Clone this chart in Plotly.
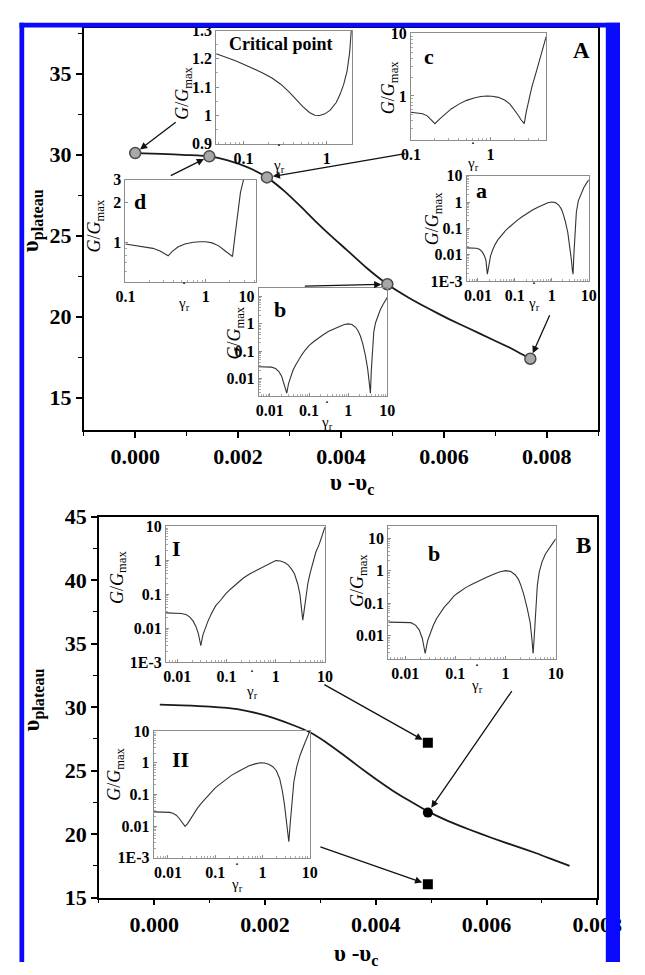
import math
import plotly.graph_objects as go

W, H = 645, 975
SERIF = "Liberation Serif"

# ---------------- data ----------------
# Panel A main curve and marked points
curveA_x = [0.0, 0.0005, 0.001, 0.00144, 0.0018, 0.0022, 0.00256, 0.0029, 0.0032, 0.0035, 0.0038, 0.0041, 0.0045, 0.0049, 0.0053, 0.0057, 0.0061, 0.0065, 0.0069, 0.0073, 0.00768]
curveA_y = [30.1, 30.05, 29.98, 29.9, 29.65, 29.2, 28.6, 27.75, 26.85, 25.9, 25.0, 24.15, 23.0, 22.0, 21.2, 20.5, 19.85, 19.25, 18.65, 18.05, 17.4]
pointsA_x = [0.0, 0.00144, 0.00256, 0.0049, 0.00768]
pointsA_y = [30.1, 29.9, 28.6, 22.0, 17.4]

# Panel B main curve and marked points
curveB_x = [0.0001, 0.0005, 0.001, 0.0015, 0.002, 0.0025, 0.0028, 0.0031, 0.0034, 0.0037, 0.004, 0.0043, 0.0046, 0.00494, 0.0053, 0.0057, 0.0061, 0.0065, 0.0069, 0.0072, 0.0075]
curveB_y = [30.2, 30.15, 30.05, 29.85, 29.35, 28.6, 28.05, 27.25, 26.3, 25.3, 24.35, 23.45, 22.65, 21.8, 21.05, 20.35, 19.7, 19.1, 18.5, 18.0, 17.5]
squaresB_x = [0.00494, 0.00494]
squaresB_y = [27.2, 16.05]
circleB_x = [0.00494]
circleB_y = [21.7]

# Inset: critical point
crit_x = [0.047, 0.06, 0.08, 0.1, 0.13, 0.17, 0.22, 0.28, 0.35, 0.43, 0.52, 0.62, 0.72, 0.82, 0.95, 1.1, 1.3, 1.45, 1.6, 1.75, 1.88, 1.97]
crit_y = [1.218, 1.207, 1.193, 1.181, 1.166, 1.150, 1.132, 1.110, 1.084, 1.055, 1.030, 1.010, 1.000, 0.999, 1.005, 1.018, 1.045, 1.075, 1.11, 1.155, 1.22, 1.30]

# Inset c
c_x = [0.1, 0.12, 0.14, 0.16, 0.18, 0.2, 0.23, 0.27, 0.32, 0.4, 0.5, 0.62, 0.75, 0.9, 1.05, 1.25, 1.5, 1.75, 2.0, 2.2, 2.4, 2.55, 2.65, 2.8, 3.0, 3.3, 3.7, 4.2, 4.7, 5.0]
c_y = [0.55, 0.54, 0.52, 0.48, 0.42, 0.36, 0.43, 0.52, 0.62, 0.74, 0.85, 0.93, 0.98, 1.0, 0.99, 0.95, 0.86, 0.74, 0.6, 0.5, 0.42, 0.37, 0.36, 0.55, 0.85, 1.4, 2.3, 4.0, 6.5, 9.0]

# Inset d
d_x = [0.1, 0.13, 0.17, 0.22, 0.27, 0.31, 0.34, 0.38, 0.45, 0.55, 0.7, 0.85, 1.0, 1.2, 1.45, 1.7, 1.95, 2.15, 2.3, 2.5, 2.7, 2.95]
d_y = [0.97, 0.95, 0.93, 0.9, 0.86, 0.82, 0.79, 0.85, 0.92, 0.97, 1.0, 1.01, 1.01, 0.99, 0.94, 0.87, 0.81, 0.78, 1.1, 1.7, 2.4, 3.0]

# Inset a
a_x = [0.005, 0.007, 0.009, 0.011, 0.013, 0.015, 0.0165, 0.018, 0.02, 0.022, 0.025, 0.029, 0.035, 0.043, 0.055, 0.07, 0.09, 0.12, 0.16, 0.22, 0.3, 0.42, 0.58, 0.78, 1.0, 1.25, 1.55, 1.8, 2.0, 2.3, 2.7, 3.1, 3.4, 3.6, 3.75, 3.95, 4.2, 4.6, 5.2, 6.2, 7.3, 8.5, 10]
a_y = [0.018, 0.018, 0.0175, 0.016, 0.013, 0.009, 0.006, 0.0018, 0.005, 0.009, 0.015, 0.024, 0.037, 0.055, 0.08, 0.11, 0.15, 0.21, 0.28, 0.38, 0.5, 0.63, 0.78, 0.93, 1.0, 0.95, 0.75, 0.55, 0.37, 0.19, 0.07, 0.02, 0.006, 0.0025, 0.0018, 0.01, 0.08, 0.4, 1.1, 2.2, 3.5, 5.0, 7.0]

# Inset b (panel A)
bA_x = [0.0052, 0.008, 0.011, 0.014, 0.017, 0.02, 0.023, 0.027, 0.03, 0.034, 0.039, 0.046, 0.055, 0.066, 0.08, 0.1, 0.13, 0.17, 0.23, 0.31, 0.43, 0.6, 0.8, 1.0, 1.25, 1.55, 1.8, 2.05, 2.35, 2.75, 3.15, 3.45, 3.7, 3.9, 4.15, 4.5, 5.0, 5.7, 6.6, 7.7, 8.8, 10]
bA_y = [0.027, 0.027, 0.026, 0.023, 0.018, 0.012, 0.0065, 0.0029, 0.0065, 0.012, 0.02, 0.032, 0.05, 0.075, 0.11, 0.16, 0.22, 0.3, 0.4, 0.52, 0.66, 0.8, 0.94, 1.0, 0.95, 0.75, 0.55, 0.36, 0.19, 0.07, 0.022, 0.007, 0.0029, 0.02, 0.15, 0.5, 1.1, 2.0, 3.3, 5.0, 7.0, 9.5]

# Inset I (panel B)
I_x = [0.0059, 0.009, 0.012, 0.015, 0.018, 0.021, 0.024, 0.027, 0.03, 0.033, 0.037, 0.042, 0.05, 0.06, 0.075, 0.095, 0.12, 0.16, 0.22, 0.3, 0.42, 0.58, 0.78, 1.0, 1.25, 1.55, 1.8, 2.1, 2.4, 2.8, 3.1, 3.35, 3.55, 3.8, 4.1, 4.5, 5.0, 5.6, 6.5, 7.6, 8.8, 10]
I_y = [0.028, 0.028, 0.027, 0.025, 0.021, 0.016, 0.011, 0.0065, 0.003, 0.0062, 0.01, 0.016, 0.028, 0.045, 0.065, 0.1, 0.14, 0.2, 0.3, 0.4, 0.52, 0.66, 0.85, 0.98, 0.95, 0.85, 0.72, 0.55, 0.4, 0.2, 0.1, 0.04, 0.017, 0.035, 0.09, 0.21, 0.42, 0.78, 1.7, 2.9, 5.5, 9.5]

# Inset b (panel B)
bB_x = [0.0046, 0.007, 0.01, 0.013, 0.016, 0.019, 0.022, 0.025, 0.028, 0.032, 0.036, 0.042, 0.05, 0.06, 0.075, 0.095, 0.12, 0.16, 0.22, 0.3, 0.42, 0.58, 0.78, 1.0, 1.25, 1.55, 1.8, 2.0, 2.3, 2.7, 3.1, 3.35, 3.55, 3.75, 4.0, 4.3, 4.7, 5.3, 6.2, 7.3, 8.5, 10]
bB_y = [0.026, 0.026, 0.026, 0.025, 0.021, 0.015, 0.008, 0.0028, 0.007, 0.013, 0.02, 0.033, 0.05, 0.075, 0.11, 0.17, 0.22, 0.3, 0.39, 0.5, 0.63, 0.78, 0.93, 1.0, 0.95, 0.75, 0.55, 0.37, 0.19, 0.07, 0.025, 0.008, 0.0028, 0.01, 0.08, 0.35, 0.9, 1.8, 3.2, 4.8, 6.8, 9.5]

# Inset II (panel B)
II_x = [0.005, 0.007, 0.009, 0.011, 0.013, 0.015, 0.017, 0.019, 0.021, 0.023, 0.026, 0.03, 0.035, 0.042, 0.052, 0.065, 0.08, 0.1, 0.13, 0.17, 0.22, 0.3, 0.4, 0.52, 0.7, 0.9, 1.1, 1.35, 1.65, 1.95, 2.3, 2.6, 2.9, 3.2, 3.4, 3.6, 3.85, 4.2, 4.6, 5.3, 6.2, 7.3, 8.6, 10]
II_y = [0.028, 0.028, 0.028, 0.027, 0.025, 0.022, 0.018, 0.014, 0.012, 0.0098, 0.012, 0.017, 0.025, 0.037, 0.055, 0.08, 0.11, 0.16, 0.22, 0.3, 0.4, 0.52, 0.65, 0.8, 0.92, 1.0, 0.98, 0.9, 0.75, 0.57, 0.32, 0.14, 0.05, 0.013, 0.006, 0.0032, 0.012, 0.06, 0.25, 0.75, 1.7, 3.2, 5.8, 10]

# tick labels
log4_vals = [0.01, 0.1, 1, 10]
log4_text = ["0.01", "0.1", "1", "10"]
log5_vals = [0.001, 0.01, 0.1, 1, 10]
log5_text = ["1E-3", "0.01", "0.1", "1", "10"]

# ---------------- helpers ----------------
def xd(l, r):
    return [l / W, r / W]

def yd(t, b):
    return [1 - b / H, 1 - t / H]

def px(x):
    return x / W

def py(y):
    return 1 - y / H

minor_log = [m * 10 ** k for k in range(-3, 2) for m in range(2, 10)]

fig = go.Figure()
layout = dict(width=W, height=H, autosize=False, margin=dict(l=0, r=0, t=0, b=0, pad=0),
              paper_bgcolor="white", plot_bgcolor="rgba(0,0,0,0)",
              showlegend=False)

main_font = dict(family=SERIF, size=22, color="black", weight="bold")
ins_font = dict(family=SERIF, size=16, color="black", weight="bold")

def main_axes(n, xbox, ybox, xr, yr):
    sx = "" if n == 1 else str(n)
    layout["xaxis" + sx] = dict(domain=xd(*xbox), anchor="y" + sx, range=xr, tick0=0, dtick=0.002,
                                tickformat=".3f", ticks="outside", ticklen=6, tickwidth=1.5, tickcolor="black",
                                minor=dict(dtick=0.001, ticks="outside", ticklen=4, tickwidth=1.2, tickcolor="black"),
                                showline=True, linewidth=1.5, linecolor="black", mirror=True,
                                showgrid=False, zeroline=False, tickfont=main_font)
    layout["yaxis" + sx] = dict(domain=yd(*ybox), anchor="x" + sx, range=yr, tick0=0, dtick=5,
                                ticks="outside", ticklen=6, tickwidth=1.5, tickcolor="black",
                                minor=dict(dtick=2.5, ticks="outside", ticklen=4, tickwidth=1.2, tickcolor="black"),
                                showline=True, linewidth=1.5, linecolor="black", mirror=True,
                                showgrid=False, zeroline=False, tickfont=main_font)

def inset(n, xs, ys, box, xr, yr, ylog, xv, xt, yv, yt):
    l, r, t, b = box
    sx = str(n)
    fig.add_trace(go.Scatter(x=xs, y=ys, mode="lines", line=dict(color="#333333", width=1.1),
                             xaxis="x" + sx, yaxis="y" + sx, hoverinfo="skip"))
    frame = dict(showline=True, linewidth=1, linecolor="#8c8c8c", mirror=True, showgrid=False,
                 zeroline=False, ticks="inside", ticklen=3, tickcolor="#8c8c8c", tickfont=ins_font)
    layout["xaxis" + sx] = dict(domain=xd(l, r), anchor="y" + sx, type="log", range=xr,
                                tickmode="array", tickvals=xv, ticktext=xt,
                                minor=dict(tickmode="array", tickvals=minor_log, ticks="inside", ticklen=2,
                                           tickcolor="#aaaaaa"), **frame)
    ya = dict(domain=yd(t, b), anchor="x" + sx, range=yr, tickmode="array", tickvals=yv, ticktext=yt, **frame)
    if ylog:
        ya["type"] = "log"
        ya["minor"] = dict(tickmode="array", tickvals=minor_log, ticks="inside", ticklen=2, tickcolor="#aaaaaa")
    else:
        ya["minor"] = dict(dtick=0.05, ticks="inside", ticklen=2, tickcolor="#aaaaaa")
    layout["yaxis" + sx] = ya

L = math.log10

# ---- panel A ----
fig.add_trace(go.Scatter(x=curveA_x, y=curveA_y, mode="lines",
                         line=dict(color="#1a1a1a", width=1.8, shape="spline", smoothing=0.5),
                         xaxis="x", yaxis="y", hoverinfo="skip"))
fig.add_trace(go.Scatter(x=pointsA_x, y=pointsA_y, mode="markers",
                         marker=dict(symbol="circle", size=11, color="#a8a8a8", line=dict(color="#4a4a4a", width=1.5)),
                         xaxis="x", yaxis="y", hoverinfo="skip"))
main_axes(1, (78, 622), (16, 429), [-0.001, 0.009], [13, 37.85])

inset(2, crit_x, crit_y, (218, 362, 19, 135), [L(0.047), L(2.03)], [0.9, 1.3], False,
      [0.1, 1], ["0.1", "1"], [0.9, 1.0, 1.1, 1.2, 1.3], ["0.9", "1", "1.1", "1.2", "1.3"])
inset(3, c_x, c_y, (424, 567, 22, 131), [-1, L(5.0)], [L(0.2), 1], True,
      [0.1, 1], ["0.1", "1"], [1, 10], ["1", "10"])
inset(4, d_x, d_y, (122, 260, 172, 277), [-1, L(4.2)], [L(0.5), L(3)], True,
      [0.1, 1], ["0.1", "1"], [1, 2, 3], ["1", "2", "3"])
inset(5, a_x, a_y, (483, 612, 168, 276), [L(0.005), 1], [-3, 1], True,
      log4_vals, log4_text, log5_vals, log5_text)
inset(6, bA_x, bA_y, (263, 399, 283, 394), [L(0.0052), 1], [L(0.0023), L(21)], True,
      log4_vals, log4_text, log4_vals, log4_text)

# ---- panel B ----
fig.add_trace(go.Scatter(x=curveB_x, y=curveB_y, mode="lines",
                         line=dict(color="#1a1a1a", width=1.8, shape="spline", smoothing=0.5),
                         xaxis="x7", yaxis="y7", hoverinfo="skip"))
fig.add_trace(go.Scatter(x=squaresB_x, y=squaresB_y, mode="markers",
                         marker=dict(symbol="square", size=10, color="black"),
                         xaxis="x7", yaxis="y7", hoverinfo="skip"))
fig.add_trace(go.Scatter(x=circleB_x, y=circleB_y, mode="markers",
                         marker=dict(symbol="circle", size=10, color="black"),
                         xaxis="x7", yaxis="y7", hoverinfo="skip"))
main_axes(7, (94, 621), (518, 909), [-0.001, 0.008], [15, 45])

inset(8, I_x, I_y, (165, 333, 528, 667), [L(0.0059), 1], [-3, 1], True,
      log4_vals, log4_text, log5_vals, log5_text)
inset(9, bB_x, bB_y, (400, 577, 528, 664), [L(0.0046), 1], [L(0.0019), L(23)], True,
      log4_vals, log4_text, log4_vals, log4_text)
inset(10, II_x, II_y, (152, 317, 738, 868), [L(0.005), 1], [-3, 1], True,
      log4_vals, log4_text, log5_vals, log5_text)

# ---------------- annotations ----------------
ann = []

def text(xp, yp, s, size, bold=True, angle=0, italic=False):
    f = dict(family=SERIF, size=size, color="black")
    if bold:
        f["weight"] = "bold"
    if italic:
        f["style"] = "italic"
    ann.append(dict(x=px(xp), y=py(yp), xref="paper", yref="paper", text=s, showarrow=False,
                    font=f, textangle=angle, xanchor="center", yanchor="middle"))

# axis titles
text(24, 214, "υ<sub>plateau</sub>", 23, angle=-90)
text(362, 484, "υ -υ<sub>c</sub>", 23)
text(25, 706, "υ<sub>plateau</sub>", 23, angle=-90)
text(366, 968, "υ -υ<sub>c</sub>", 23)

# panel letters and inset labels
text(604, 39, "A", 23)
text(606, 548, "B", 23)
text(287, 33, "Critical point", 18)
text(443, 46, "c", 22)
text(137, 195, "d", 22)
text(499, 183, "a", 22)
text(285, 305, "b", 22)
text(176, 551, "I", 22)
text(448, 556, "b", 22)
text(180, 767, "II", 22)

# inset y titles
gg = "<i>G</i>/<i>G</i><sub>max</sub>"
for (xp, yp) in [(184, 84), (402, 78), (90, 220), (448, 212), (239, 330),
                 (114, 580), (368, 584), (112, 782)]:
    text(xp, yp, gg, 18, bold=False, angle=-90)

# inset x titles (gamma-dot r)
for (xp, yp) in [(284, 148), (490, 146), (184, 289), (554, 289), (335, 412),
                 (256, 688), (494, 681), (240, 886)]:
    text(xp, yp, "·<br>γ<sub>r</sub>", 15, bold=False)

# arrows, panel A
for (xv, yv, ax, ay) in [(pointsA_x[0], pointsA_y[0], 42, -32),
                         (pointsA_x[1], pointsA_y[1], -40, 20),
                         (pointsA_x[2], pointsA_y[2], 140, -24),
                         (pointsA_x[3], pointsA_y[3], -84, 2),
                         (pointsA_x[4], pointsA_y[4], 20, -45)]:
    ann.append(dict(x=xv, y=yv, xref="x", yref="y", ax=ax, ay=ay, text="", showarrow=True,
                    arrowhead=2, arrowsize=1.1, arrowwidth=1.3, arrowcolor="#111111", standoff=6))

# arrows, panel B
for (xv, yv, ax, ay) in [(squaresB_x[0], squaresB_y[0], -105, -59),
                         (circleB_x[0], circleB_y[0], 85, -123),
                         (squaresB_x[1], squaresB_y[1], -109, -38)]:
    ann.append(dict(x=xv, y=yv, xref="x7", yref="y7", ax=ax, ay=ay, text="", showarrow=True,
                    arrowhead=2, arrowsize=1.1, arrowwidth=1.3, arrowcolor="#111111", standoff=6))

layout["annotations"] = ann

# blue frame
blue = "#0a0aff"
shapes = []
for (x0, y0, x1, y1) in [(10, 11, 645, 16), (10, 11, 15, 975), (630, 11, 645, 975)]:
    shapes.append(dict(type="rect", xref="paper", yref="paper", x0=px(x0), x1=px(x1), y0=py(y1), y1=py(y0),
                       fillcolor=blue, line=dict(width=0), layer="above"))
layout["shapes"] = shapes

fig.update_layout(**layout)
fig.write_html("out.html")
